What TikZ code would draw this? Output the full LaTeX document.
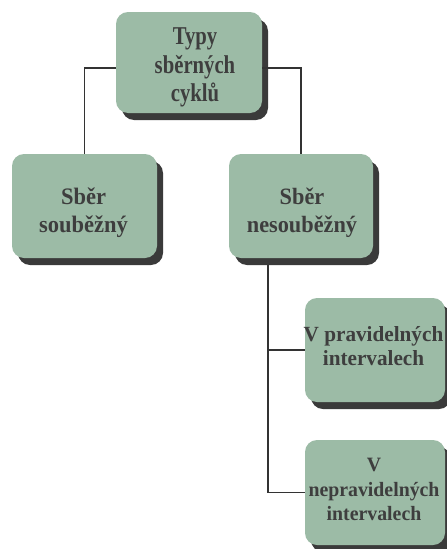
\documentclass[tikz,border=0pt]{standalone}
\usepackage{graphicx}
\usepackage{fontspec}
\setmainfont{Liberation Serif}
\usetikzlibrary{shadows}
\definecolor{boxfill}{HTML}{9CBBA6}
\definecolor{boxshadow}{HTML}{3A3A3A}
\definecolor{inkgrey}{HTML}{3E3E3E}
\definecolor{linegrey}{HTML}{333333}
% centred lines of text: size, line skip, vertical stretch, lines
\newcommand{\stacklines}[4]{\scalebox{1}[#3]{\fontsize{#1}{#2}\selectfont
  \begin{tabular}[t]{@{}c@{}}#4\end{tabular}}}
\tikzset{
  cyclebox/.style={draw=none, fill=boxfill, rounded corners=12pt, inner sep=0pt,
    drop shadow={shadow xshift=6pt, shadow yshift=-7pt, fill=boxshadow, opacity=1}},
  boxlabel/.style={anchor=base, inner sep=0pt, text=inkgrey, font=\bfseries},
  link/.style={draw=linegrey, line width=1.6pt}
}
\begin{document}
\begin{tikzpicture}[x=1pt, y=-1pt]
\useasboundingbox (0,0) rectangle (447,549);

% boxes
\node[cyclebox, minimum width=146pt, minimum height=101pt] (root) at (189,62.5) {};
\node[cyclebox, minimum width=145pt, minimum height=104pt] (conc) at (84.5,206) {};
\node[cyclebox, minimum width=144pt, minimum height=104pt] (nonc) at (301,206) {};
\node[cyclebox, minimum width=140pt, minimum height=104pt] (reg) at (375,350) {};
\node[cyclebox, minimum width=140pt, minimum height=105pt] (irr) at (375,492.5) {};

% box captions, placed by the baseline of their first line
\node[boxlabel] (rootText) at (195,44.5)
  {\stacklines{20.7}{23}{1.24}{Typy\\sběrných\\cyklů}};
\node[boxlabel] (concText) at (83.5,204.5)
  {\stacklines{22.5}{26.6}{1.05}{Sběr\\souběžný}};
\node[boxlabel] (noncText) at (302,204.5)
  {\stacklines{22.3}{26.6}{1.05}{Sběr\\nesouběžný}};
\node[boxlabel] (regText) at (373.5,341.5)
  {\stacklines{21.2}{23.5}{1.02}{V pravidelných\\intervalech}};
\node[boxlabel] (irrText) at (374,471.7)
  {\stacklines{19.8}{23.6}{1.03}{V\\nepravidelných\\intervalech}};

% tree links
\coordinate (trunk) at ([xshift=-33pt]nonc.south);
\draw[link] ([yshift=-5.5pt]root.west) -| (conc.north);
\draw[link] ([yshift=-5.5pt]root.east) -| (nonc.north);
\draw[link] ([yshift=-7pt]trunk) |- (reg.west);
\draw[link] ([yshift=-7pt]trunk) |- (irr.west);
\end{tikzpicture}
\end{document}
